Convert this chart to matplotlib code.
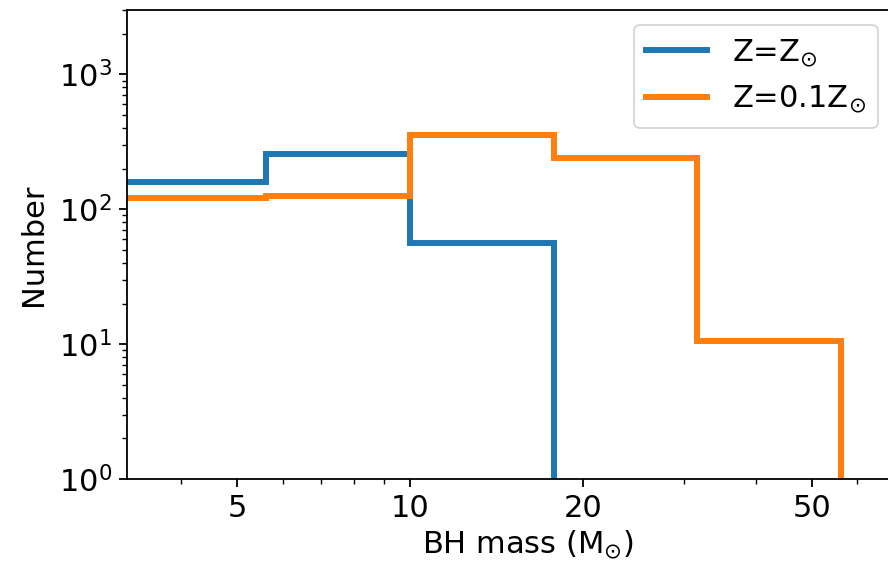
import numpy as np
import matplotlib
matplotlib.use("Agg")
import matplotlib.pyplot as plt

# Log-spaced mass bins (0.25 dex wide), in solar masses
bin_edges = 10 ** np.array([0.5, 0.75, 1.0, 1.25, 1.5, 1.75])

# Number of black holes per bin for each metallicity
counts_solar = [160, 258, 56, 0, 0]
counts_low = [121, 125, 354, 241, 10.5]

labels = ["Z=Z$_{\\odot}$", "Z=0.1Z$_{\\odot}$"]
colors = ["#1f77b4", "#ff7f0e"]

W, H, DPI = 888, 563, 100
fig = plt.figure(figsize=(W / DPI, H / DPI), dpi=DPI)

bottom, top = 479, 10
xmin, xmax = 3.22, 80.0
px_per_dex = 574.7
x10_px = 410.0
left = x10_px - px_per_dex * (1 - np.log10(xmin))
width_px = px_per_dex * (np.log10(xmax) - np.log10(xmin))
ax = fig.add_axes([left / W, (H - bottom) / H, width_px / W, (bottom - top) / H])

for counts, lab, col in zip([counts_solar, counts_low], labels, colors):
    vals = np.trim_zeros(np.asarray(counts, dtype=float), "b")
    edges = bin_edges[: len(vals) + 1]
    ax.stairs(vals, edges, baseline=1, color=col, lw=4.3, label=lab)

ax.set_xscale("log")
ax.set_yscale("log")
ax.set_xlim(xmin, xmax)
ax.set_ylim(1, 3000)

ax.set_xticks([5, 10, 20, 50])
ax.set_xticklabels(["5", "10", "20", "50"])
ax.xaxis.set_minor_formatter(matplotlib.ticker.NullFormatter())

fs = 22
ax.tick_params(which="major", labelsize=fs, length=6, width=1.3, pad=5)
ax.tick_params(which="minor", length=3.5, width=1.0)
for s in ax.spines.values():
    s.set_linewidth(1.3)

ax.set_xlabel("BH mass (M$_{\\odot}$)", fontsize=fs, labelpad=4)
ax.set_ylabel("Number", fontsize=fs, labelpad=8)

leg = ax.legend(loc="upper right", bbox_to_anchor=(878 / W, 1 - 25 / H),
                bbox_transform=fig.transFigure, borderaxespad=0,
                fontsize=fs, handlelength=2.0, framealpha=0.8)
leg.get_frame().set_linewidth(1.3)

fig.savefig("out.png", dpi=DPI)
